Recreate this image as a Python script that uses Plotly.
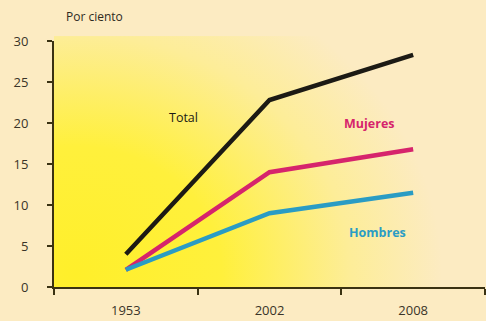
import plotly.graph_objects as go

years = ["1953", "2002", "2008"]
total = [4.0, 22.8, 28.3]
mujeres = [2.1, 14.0, 16.8]
hombres = [2.1, 9.0, 11.5]
y_ticks = [0, 5, 10, 15, 20, 25, 30]

BG = "#FCEBC2"
AX = "#3a3212"

svg = (
    "data:image/svg+xml;utf8,"
    "<svg xmlns='http://www.w3.org/2000/svg' width='432' height='252' preserveAspectRatio='none'>"
    "<defs><radialGradient id='g' cx='0.05' cy='0.95' r='0.85' "
    "gradientTransform='translate(0.05,0.95) scale(1,1.5) translate(-0.05,-0.95)'>"
    "<stop offset='0' stop-color='%23FFEF2A'/>"
    "<stop offset='0.4' stop-color='%23FFF03C'/>"
    "<stop offset='0.75' stop-color='%23FDED98'/>"
    "<stop offset='1' stop-color='%23FCEBC2'/>"
    "</radialGradient></defs>"
    "<rect width='432' height='252' fill='url(%23g)'/></svg>"
)

fig = go.Figure()
fig.add_trace(go.Scatter(x=years, y=total, mode="lines",
                         line=dict(color="#1c1a14", width=4.5), name="Total"))
fig.add_trace(go.Scatter(x=years, y=mujeres, mode="lines",
                         line=dict(color="#d6246c", width=4.5), name="Mujeres"))
fig.add_trace(go.Scatter(x=years, y=hombres, mode="lines",
                         line=dict(color="#2a9cc4", width=4.5), name="Hombres"))

fig.add_layout_image(dict(source=svg, xref="paper", yref="paper", x=0, y=1.02,
                          sizex=1, sizey=1.02, sizing="stretch", layer="below",
                          xanchor="left", yanchor="top"))

fig.add_annotation(x=0.4, y=20.7, text="Total", showarrow=False,
                   font=dict(color="#1c1a14", size=12.5))
fig.add_annotation(x=1.69, y=19.9, text="<b>Mujeres</b>", showarrow=False,
                   font=dict(color="#d6246c", size=12.5))
fig.add_annotation(x=1.75, y=6.6, text="<b>Hombres</b>", showarrow=False,
                   font=dict(color="#2a9cc4", size=12.5))
fig.add_annotation(x=0.024, y=1.098, xref="paper", yref="paper", text="Por ciento",
                   showarrow=False, xanchor="left", yanchor="middle",
                   font=dict(color="#2e2a1e", size=12))

fig.update_layout(
    width=486, height=321,
    margin=dict(l=54, r=1, t=41, b=34),
    paper_bgcolor=BG, plot_bgcolor="rgba(0,0,0,0)",
    showlegend=False,
    font=dict(family="Open Sans, sans-serif", color="#3a3428", size=12),
    xaxis=dict(type="category", range=[-0.5, 2.5], tickson="boundaries",
               showgrid=False, showline=True, linecolor=AX, linewidth=2,
               ticks="outside", ticklen=6, tickcolor=AX, tickwidth=1.5,
               zeroline=False, tickfont=dict(size=13, color="#3a3428"),
               ticklabelstandoff=10),
    yaxis=dict(range=[0, 30], tickvals=y_ticks, showgrid=False, showline=True,
               linecolor=AX, linewidth=2, ticks="outside", ticklen=5,
               tickcolor=AX, tickwidth=1.5, zeroline=False,
               tickfont=dict(size=13, color="#3a3428"), ticklabelstandoff=16),
)

fig.write_html("out.html")
